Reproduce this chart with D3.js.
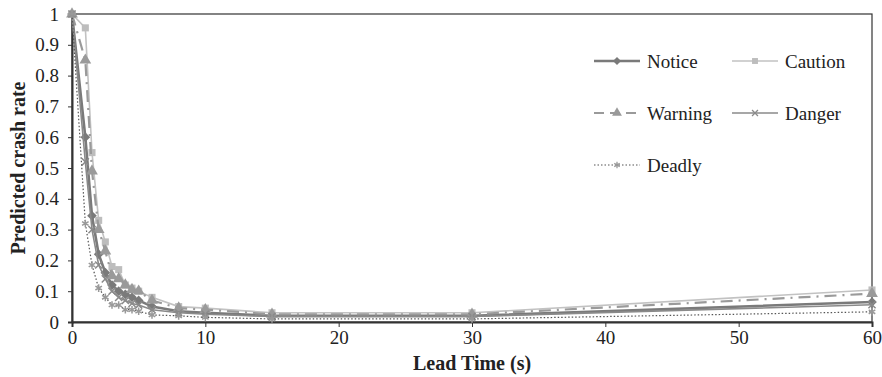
<!DOCTYPE html>
<html><head><meta charset="utf-8">
<script src="https://cdn.jsdelivr.net/npm/d3@7"></script>
<style>body{margin:0;background:#fff}svg{display:block}</style>
</head><body><svg id="c" width="882" height="377"></svg>
<script>
const leadTime = [0, 1, 1.5, 2, 2.5, 3, 3.5, 4, 4.5, 5, 6, 8, 10, 15, 30, 60];
const notice  = [1, 0.60, 0.345, 0.22, 0.16, 0.12, 0.10, 0.09, 0.08, 0.07, 0.05, 0.035, 0.03, 0.02, 0.02, 0.065];
const caution = [1, 0.955, 0.55, 0.33, 0.26, 0.18, 0.17, 0.12, 0.11, 0.10, 0.08, 0.05, 0.045, 0.03, 0.03, 0.104];
const warning = [1, 0.85, 0.49, 0.30, 0.23, 0.15, 0.14, 0.12, 0.105, 0.10, 0.07, 0.045, 0.04, 0.025, 0.025, 0.092];
const danger  = [1, 0.52, 0.30, 0.185, 0.14, 0.10, 0.08, 0.07, 0.06, 0.055, 0.04, 0.03, 0.025, 0.018, 0.018, 0.056];
const deadly  = [1, 0.32, 0.185, 0.11, 0.08, 0.055, 0.055, 0.04, 0.04, 0.035, 0.023, 0.02, 0.015, 0.01, 0.01, 0.033];
const xTicks = [0, 10, 20, 30, 40, 50, 60];
const yTicks = [0, 0.1, 0.2, 0.3, 0.4, 0.5, 0.6, 0.7, 0.8, 0.9, 1];

const FONT = "'Liberation Serif', 'Times New Roman', Tinos, serif";

const series = [
  {name:"Notice", values:notice, color:"#7a7a7a", width:2.6, dash:null, sym:d3.symbolDiamond2, size:60, mfill:"#7a7a7a"},
  {name:"Caution", values:caution, color:"#c2c2c2", width:1.6, dash:null, sym:d3.symbolSquare, size:50, mfill:"#bdbdbd"},
  {name:"Warning", values:warning, color:"#9a9a9a", width:2.2, dash:"12,6,2,6", sym:d3.symbolTriangle, size:60, mfill:"#9a9a9a"},
  {name:"Danger", values:danger, color:"#8a8a8a", width:1.6, dash:null, sym:d3.symbolX, size:35, mfill:"#8a8a8a"},
  {name:"Deadly", values:deadly, color:"#555", width:1.2, dash:"1.5,2", sym:d3.symbolAsterisk, size:40, mfill:"#999"}
];

const svg = d3.select("#c");
const m = {l:72, r:872, t:14, b:322};
const x = d3.scaleLinear().domain([0,60]).range([m.l, m.r]);
const y = d3.scaleLinear().domain([0,1]).range([m.b, m.t]);

svg.append("rect").attr("x",m.l).attr("y",m.t).attr("width",m.r-m.l).attr("height",m.b-m.t)
  .attr("fill","none").attr("stroke","#333").attr("stroke-width",1.2);

const xa = svg.append("g").attr("transform",`translate(0,${m.b})`)
  .call(d3.axisBottom(x).tickValues(xTicks).tickFormat(d3.format("d")).tickSize(5).tickPadding(4));
const ya = svg.append("g").attr("transform",`translate(${m.l},0)`)
  .call(d3.axisLeft(y).tickValues(yTicks).tickFormat(d=>d===0?"0":d===1?"1":d3.format(".1f")(d)).tickSize(4).tickPadding(9));
[xa,ya].forEach(a=>{
  a.attr("font-family",null).attr("font-size",null);
  a.select(".domain").attr("stroke","#333").attr("stroke-width",2);
  a.selectAll(".tick line").attr("stroke","#333");
  a.selectAll("text").style("font-size","19px").style("font-family",FONT).attr("fill","#222");
});

series.forEach(s=>{
  const pts = leadTime.map((t,i)=>[t, s.values[i]]);
  const line = d3.line().x(d=>x(d[0])).y(d=>y(d[1]));
  svg.append("path").datum(pts).attr("d",line).attr("fill","none")
    .attr("stroke",s.color).attr("stroke-width",s.width).attr("stroke-dasharray",s.dash);
  const sym = d3.symbol().type(s.sym).size(s.size);
  const open = (s.sym===d3.symbolX||s.sym===d3.symbolAsterisk);
  svg.append("g").selectAll("path").data(pts).join("path")
    .attr("transform",d=>`translate(${x(d[0])},${y(d[1])})`).attr("d",sym)
    .attr("fill",open?"none":s.mfill).attr("stroke",open?s.mfill:"none").attr("stroke-width",1.5);
});

const legPos = [[594,61],[732,61],[594,113],[732,113],[594,165]];
series.forEach((s,i)=>{
  const [lx,ly] = legPos[i];
  const g = svg.append("g");
  g.append("line").attr("x1",lx).attr("x2",lx+46).attr("y1",ly).attr("y2",ly)
    .attr("stroke",s.color).attr("stroke-width",s.width)
    .attr("stroke-dasharray",s.name==="Warning"?"10,6":s.dash);
  const open = (s.sym===d3.symbolX||s.sym===d3.symbolAsterisk);
  g.append("path").attr("transform",`translate(${lx+23},${ly})`).attr("d",d3.symbol().type(s.sym).size(s.size*0.7))
    .attr("fill",open?"none":s.mfill).attr("stroke",open?s.mfill:"none").attr("stroke-width",1.3);
  g.append("text").attr("x",lx+53).attr("y",ly).attr("dy","0.35em")
    .style("font-size","19px").style("font-family",FONT).attr("fill","#222").text(s.name);
});

svg.append("text").attr("x",472).attr("y",370).attr("text-anchor","middle")
  .style("font-size","20px").style("font-family",FONT).attr("font-weight","bold").attr("fill","#222").text("Lead Time (s)");
svg.append("text").attr("transform",`translate(25,168) rotate(-90)`).attr("text-anchor","middle")
  .style("font-size","20px").style("font-family",FONT).attr("font-weight","bold").attr("fill","#222").text("Predicted crash rate");
</script></body></html>
